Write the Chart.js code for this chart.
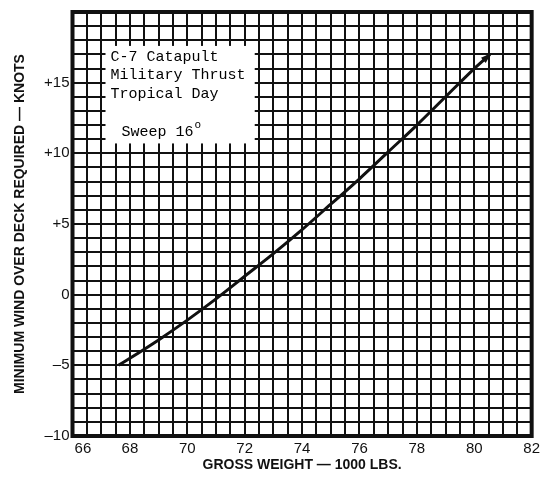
<!DOCTYPE html>
<html>
<head>
<meta charset="utf-8">
<script src="https://cdn.jsdelivr.net/npm/chart.js@4.4.0/dist/chart.umd.min.js"></script>
<style>
    body { margin: 0; background: #fff; }
    #wrap { width: 544px; height: 480px; }
</style>
</head>
<body>
<div id="wrap"><canvas id="wodChart"></canvas></div>
<script>
// gross weight (1000 lbs) and minimum wind over deck (knots)
const grossWeight = [67.6, 68, 69, 70, 71, 72, 73, 74, 75, 76, 77, 78, 79, 80, 80.55];
const minWind = [-5, -4.5, -3.2, -1.8, -0.3, 1.3, 2.9, 4.6, 6.4, 8.2, 10.1, 12.0, 14.0, 16.0, 17.0];

const noteLines = ["C-7 Catapult", "Military Thrust", "Tropical Day"];
const sweepNote = "Sweep 16";

const ink = "#111";

// white note box sitting on the grid, top left
const noteBox = {
    id: "noteBox",
    beforeDatasetsDraw(chart) {
        const { ctx, scales: { x, y } } = chart;
        const left = x.getPixelForValue(67.15);
        const right = x.getPixelForValue(72.35);
        const top = y.getPixelForValue(17.6);
        const bottom = y.getPixelForValue(10.7);
        ctx.save();
        ctx.fillStyle = "#fff";
        ctx.fillRect(left, top, right - left, bottom - top);
        ctx.fillStyle = "#000";
        ctx.font = "15px 'Liberation Mono', 'DejaVu Sans Mono', monospace";
        ctx.textBaseline = "alphabetic";
        noteLines.forEach((t, i) => ctx.fillText(t, left + 5, top + 15 + i * 18.5));
        ctx.fillText(sweepNote, left + 16, top + 90);
        const w = ctx.measureText(sweepNote).width;
        ctx.font = "11px 'Liberation Mono', 'DejaVu Sans Mono', monospace";
        ctx.fillText("o", left + 17 + w, top + 82);
        ctx.restore();
    }
};

// little arrow head at the end of the curve
const arrowTip = {
    id: "arrowTip",
    afterDatasetsDraw(chart) {
        const { ctx, scales: { x, y } } = chart;
        const n = grossWeight.length;
        const x1 = x.getPixelForValue(grossWeight[n - 2]), y1 = y.getPixelForValue(minWind[n - 2]);
        const x2 = x.getPixelForValue(grossWeight[n - 1]), y2 = y.getPixelForValue(minWind[n - 1]);
        const a = Math.atan2(y2 - y1, x2 - x1);
        ctx.save();
        ctx.translate(x2, y2);
        ctx.rotate(a);
        ctx.fillStyle = ink;
        ctx.beginPath();
        ctx.moveTo(2, 0);
        ctx.lineTo(-9, -3.5);
        ctx.lineTo(-9, 3.5);
        ctx.closePath();
        ctx.fill();
        ctx.restore();
    }
};

// thick frame round the plot
const frame = {
    id: "frame",
    afterDatasetsDraw(chart) {
        const { ctx, chartArea: a } = chart;
        ctx.save();
        ctx.strokeStyle = ink;
        ctx.lineWidth = 4;
        ctx.strokeRect(a.left, a.top, a.right - a.left, a.bottom - a.top);
        ctx.restore();
    }
};

const tickFont = { family: "'Liberation Sans', Arial, sans-serif", size: 15 };
const titleFont = { family: "'Liberation Sans', Arial, sans-serif", size: 14, weight: "bold" };

new Chart(document.getElementById("wodChart"), {
    type: "scatter",
    data: {
        datasets: [{
            data: grossWeight.map((w, i) => ({ x: w, y: minWind[i] })),
            showLine: true,
            borderColor: ink,
            borderWidth: 3,
            pointRadius: 0,
            cubicInterpolationMode: "monotone"
        }]
    },
    options: {
        responsive: true,
        maintainAspectRatio: false,
        animation: false,
        events: [],
        layout: { padding: { top: 11, right: 12, left: 0, bottom: 0 } },
        plugins: { legend: { display: false }, tooltip: { enabled: false } },
        scales: {
            x: {
                type: "linear",
                min: 66,
                max: 82,
                afterFit(scale) { scale.height = 44; },
                border: { display: false },
                grid: { color: ink, lineWidth: 2, drawTicks: false },
                ticks: {
                    stepSize: 0.5,
                    autoSkip: false,
                    maxRotation: 0,
                    padding: 4,
                    color: ink,
                    font: tickFont,
                    callback: (v) => v % 2 === 0 ? (v === 66 ? "     66" : String(v)) : ""
                },
                title: {
                    display: true,
                    text: "GROSS WEIGHT \u2014 1000 LBS.",
                    color: ink,
                    font: titleFont,
                    padding: { top: 0, bottom: 6 }
                }
            },
            y: {
                type: "linear",
                min: -10,
                max: 20,
                afterFit(scale) { scale.width = 72.5; },
                border: { display: false },
                grid: { color: ink, lineWidth: 2, drawTicks: false },
                ticks: {
                    stepSize: 1,
                    autoSkip: false,
                    padding: 3,
                    color: ink,
                    font: tickFont,
                    callback: (v) => {
                        if (v % 5 !== 0 || v >= 20) return "";
                        if (v > 0) return "+" + v;
                        if (v < 0) return "\u2013" + Math.abs(v);
                        return "0";
                    }
                },
                title: {
                    display: true,
                    text: "MINIMUM WIND OVER DECK REQUIRED \u2014 KNOTS",
                    color: ink,
                    font: titleFont,
                    padding: { top: 12, bottom: 0 }
                }
            }
        }
    },
    plugins: [noteBox, arrowTip, frame]
});
</script>
</body>
</html>
